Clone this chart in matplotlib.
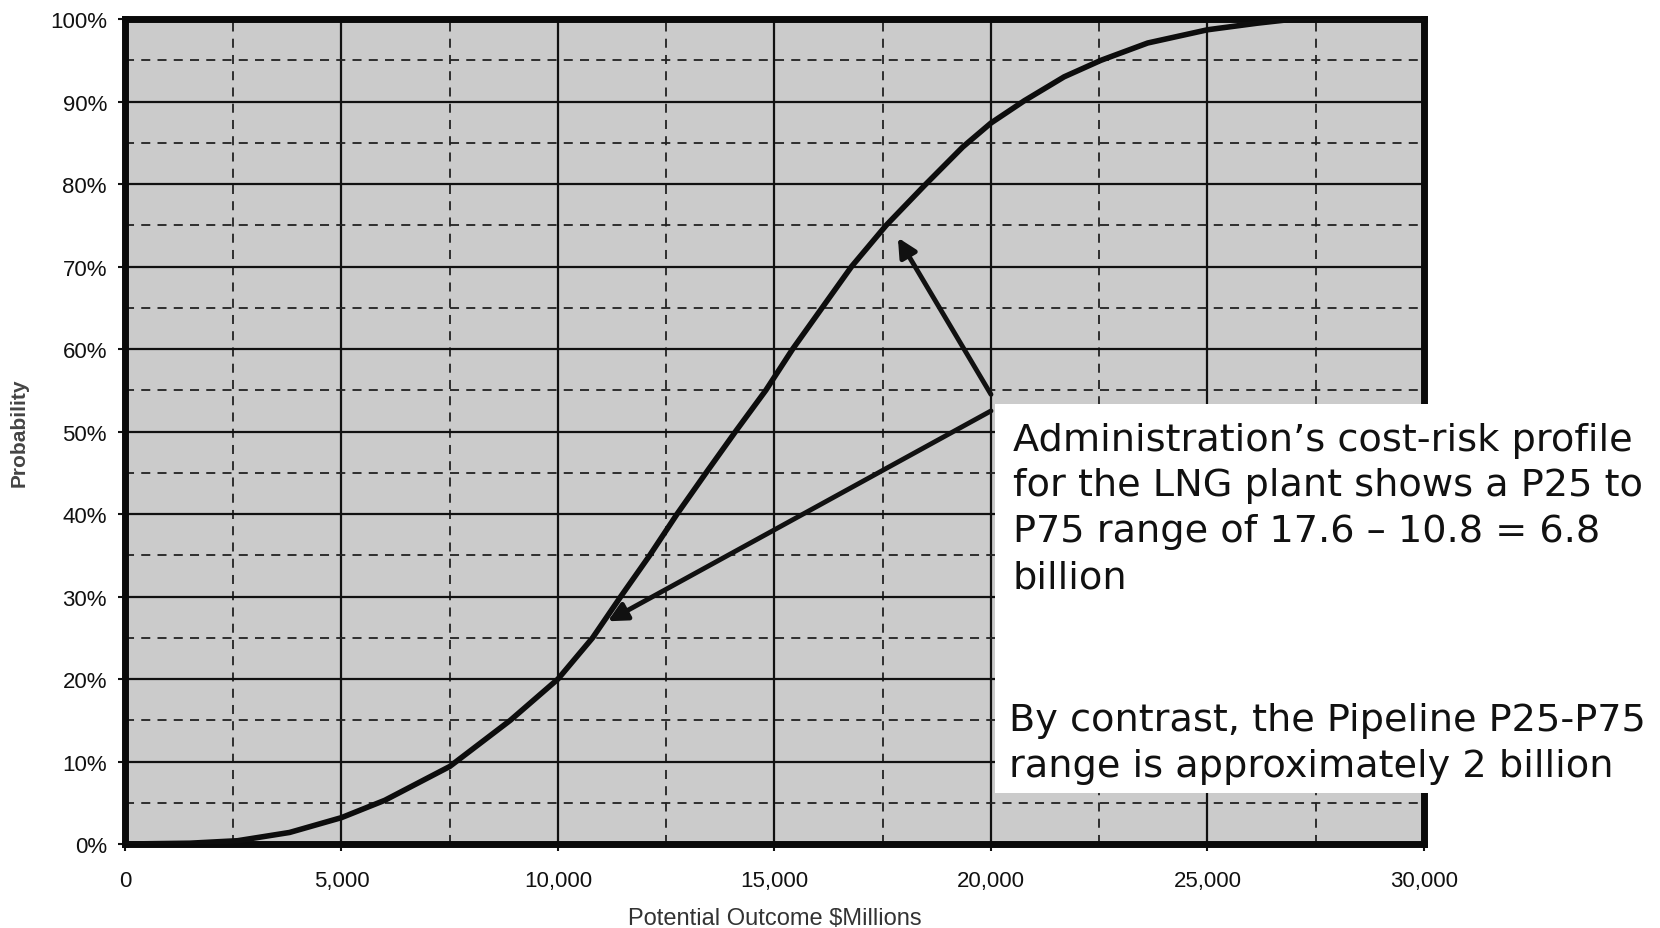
import numpy as np
import matplotlib.pyplot as plt
from matplotlib.patches import Rectangle
from matplotlib.ticker import FuncFormatter, MultipleLocator

# cumulative cost-risk profile
cost = [0, 1500, 2600, 3800, 5000, 6000, 7500, 8900, 10000, 10800, 11450,
        12120, 12750, 13420, 14100, 14800, 15420, 16100, 16780, 17580, 18460,
        19350, 20000, 20770, 21690, 22540, 23620, 25000, 26150, 27000, 30000]
prob = [0.0, 0.1, 0.4, 1.4, 3.2, 5.3, 9.4, 15.0, 20.0, 25.0, 30.0,
        35.0, 40.0, 45.0, 50.0, 55.0, 60.0, 65.0, 70.0, 75.0, 79.8,
        84.5, 87.4, 90.1, 93.0, 95.0, 97.1, 98.7, 99.5, 100.0, 100.0]

# annotation arrows: (start, end) in data units
arrow_p75 = ((20000, 54.5), (17850, 73.5))
arrow_p25 = ((20000, 52.5), (11150, 27.0))

note_lng = ("Administration\u2019s cost-risk profile\n"
            "for the LNG plant shows a P25 to\n"
            "P75 range of 17.6 \u2013 10.8 = 6.8\n"
            "billion")
note_pipe = ("By contrast, the Pipeline P25-P75\n"
             "range is approximately 2 billion")

fig = plt.figure(figsize=(16.6, 9.29), dpi=100)
ax = fig.add_axes([0.0753, 0.0904, 0.7825, 0.888])
ax.set_facecolor('#cbcbcb')

ax.set_xlim(0, 30000)
ax.set_ylim(0, 100)
ax.xaxis.set_major_locator(MultipleLocator(5000))
ax.xaxis.set_minor_locator(MultipleLocator(2500))
ax.yaxis.set_major_locator(MultipleLocator(10))
ax.yaxis.set_minor_locator(MultipleLocator(5))
ax.xaxis.set_major_formatter(FuncFormatter(lambda v, p: f'{int(v):,}'))
ax.yaxis.set_major_formatter(FuncFormatter(lambda v, p: f'{int(v)}%'))

ax.grid(which='major', color='#111111', linewidth=1.6, linestyle='-')
ax.grid(which='minor', color='#222222', linewidth=1.3, linestyle=(0, (5, 4)))
ax.set_axisbelow(True)

for s in ax.spines.values():
    s.set_linewidth(5)
    s.set_color('#0a0a0a')

lab_font = ['Liberation Sans Narrow', 'Liberation Sans']
ax.tick_params(which='major', length=5, width=1.5, pad=8, labelsize=16, colors='#111111')
ax.tick_params(axis='x', which='major', pad=14)
ax.tick_params(which='minor', length=0)
for t in ax.get_xticklabels() + ax.get_yticklabels():
    t.set_family(lab_font)

ax.set_xlabel('Potential Outcome $Millions', fontsize=17, family=lab_font,
              color='#333333', labelpad=11)
ax.set_ylabel('Probability', fontsize=15, family=lab_font, color='#444444',
              fontweight='bold', labelpad=15)

ax.plot(cost, prob, color='#0d0d0d', linewidth=4, solid_joinstyle='round',
        solid_capstyle='round', zorder=3)

for (x0, y0), (x1, y1) in (arrow_p75, arrow_p25):
    ax.annotate('', xy=(x1, y1), xytext=(x0, y0),
                arrowprops=dict(arrowstyle='-|>', color='#111111', lw=3.5,
                                mutation_scale=28, shrinkA=0, shrinkB=0),
                zorder=4)

# white cover box holding the notes
fig.patches.append(Rectangle((0.5995, 0.145), 0.41, 0.419, transform=fig.transFigure,
                             facecolor='white', edgecolor='none', zorder=10))

fig.text(0.610, 0.545, note_lng, fontsize=27.5, family='DejaVu Sans',
         color='#111111', va='top', ha='left', linespacing=1.35, zorder=11)
fig.text(0.608, 0.243, note_pipe, fontsize=27.5, family='DejaVu Sans',
         color='#111111', va='top', ha='left', linespacing=1.35, zorder=11)

fig.savefig('out.png', dpi=100, facecolor='white')
